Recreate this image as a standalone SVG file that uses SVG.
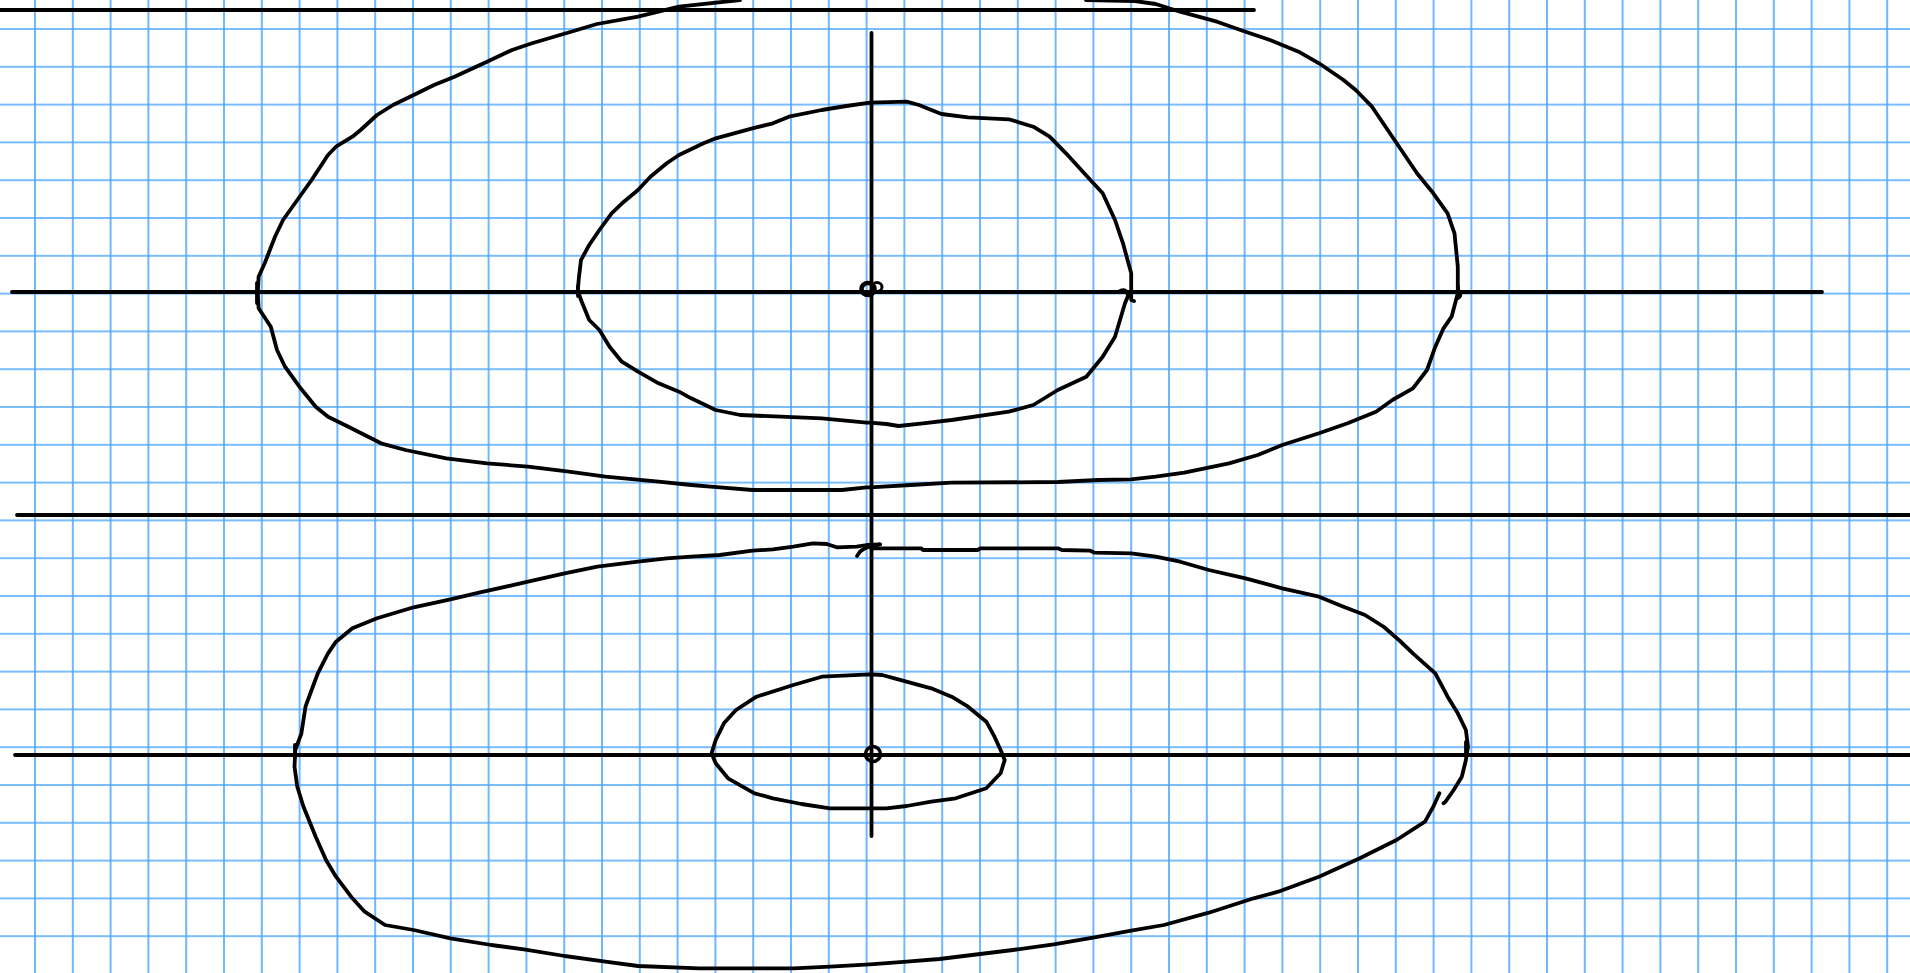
<svg xmlns="http://www.w3.org/2000/svg" width="1910" height="973" viewBox="0 0 1910 973">
<style>
.ln{stroke:#000;stroke-width:3.8;fill:none;stroke-linecap:round}
.cv{stroke:#000;stroke-width:3.8;fill:none;stroke-linecap:round;stroke-linejoin:round}
</style>
<defs>
<pattern id="grid" patternUnits="userSpaceOnUse" x="16.1" y="10.1" width="37.8" height="37.8">
<path d="M18.9 0V37.8M0 18.9H37.8" stroke="#4da6ff" stroke-width="1.6" fill="none"/>
</pattern>
</defs>
<rect width="1910" height="973" fill="#fff"/>
<rect id="grid-paper" width="1910" height="973" fill="url(#grid)"/>
<g id="lines">
<path class="ln" d="M0 10H1254"/>
<path class="ln" d="M12 292H1822"/>
<path class="ln" d="M17 515H1910"/>
<path class="ln" d="M15 755H1910"/>
<path class="ln" d="M871.5 33V836"/>
</g>
<g id="upper-outer">
<path class="cv" d="M740 0L679 6.7L638 16.7L597 24L577 30L532 43.3L512 50L487 61.7L454.5 76.7L434 85L413.7 95L393 105L377 115L360.6 130L352.4 136.7L336 146.7L328 155L311.6 180L297.3 200L283 220L275 236.7L264.7 263.3L258.6 276.7L257.8 293.3L258.6 308.3L270.8 326.7L277 350L285 366.7L299.4 386.7L315.7 406.7L328 416.7L348.4 426.7L381 443.3L405.5 450L446.3 458.3L487 463.3L528 466.7L568.8 471.7L605.5 476.7L658.6 481.7L691.2 485L719.8 487.3L752.4 490L842 490L866.7 487.3L870 487.3L910.8 485L951.6 482.7L1057.8 482L1098.6 480L1131 479.3L1155.7 476.7L1184.3 472.7L1229 463.3L1257.8 455L1282.2 445L1319 433.3L1347.6 423.3L1376 411.7L1392.4 400L1412.9 388.3L1427 370L1435.3 346.7L1443.5 328.3L1451.6 316.7L1457.8 293.3L1457.8 266.7L1454.5 233.3L1447.6 213.3L1433.3 193.3L1417 173.3L1394.5 140L1372 106.7L1355.7 90L1343.5 80L1319 63.3L1298.6 51.7L1270 40L1245.5 31.7L1217 21.7L1180 11.7L1155.7 4L1135 1L1086 0"/>
<path class="cv" d="M257 283V303M1458 287V298Q1462 296 1459 292"/>
</g>
<g id="upper-inner">
<path class="cv" d="M870 102.7L846.3 106L821.8 110L789 116.7L772.9 123.3L752.4 128.3L715.7 138.3L703.5 143.3L679 155L666.7 163.3L650.4 176.7L638 190L623.9 201.7L611.6 213.3L599.4 230L589.2 245L581 260L579 276.7L577.8 290L581 300L589.2 320L599.4 330L609.6 346.7L621.8 361.7L638 371.7L658.6 383.3L679 391.7L691.2 398.3L715.7 410L740.2 415L781 416.7L821.8 418.3L866.7 422.7L870 422.7L886.3 424L898.6 426L923 423.3L951.6 420L1008.8 411.7L1033.3 405L1057.8 390L1086.3 376.7L1102.7 356.7L1115 336.7L1125 303.3L1128 296"/>
<path class="cv" d="M870 102.7L906.7 101.7L919 105L941.4 114L968 117.3L1008.8 119.3L1033.3 126.7L1049.6 136.7L1066 153.3L1090.4 180L1102.7 193.3L1115 220L1123 243.3L1131.2 273.3L1131.2 300L1134 301M1120 291Q1127 288 1128 296"/>
<path class="cv" d="M578 286V296"/>
</g>
<g id="lower-outer">
<path class="cv" d="M880 544.3L866.7 545L856.7 546.7L836.7 547.3L826.7 544L813 543.3L793.3 546.7L772.9 549.3L752.4 550.7L719.8 555L691.2 556.7L666.7 558.3L638 561.7L597.3 566.7L564.7 573.3L528 581.7L479 592.7L450.4 599.3L413.7 607.3L377 618.3L352.4 628.3L336 641.7L328 653.3L317.8 673.3L311.6 690L305.5 706.7L301.4 733.3L295.3 750L294.5 766.7L297.3 786.7L303.5 806.7L315.7 836.7L326 860L336 876.7L352.4 898.3L364.7 911.7L385 925L413.7 930L450.4 938.3L491.2 945L523.9 949.3L564.7 956L605.5 961.7L638 966L699.4 968.3L793.3 968.3L830 966.7L870 964.3L906.7 961.7L939.4 959L980.2 954L1012.9 950L1053.7 944.3L1094.5 937.3L1131.2 930.7L1163.9 925L1208.8 912.7L1253.7 898.3L1278.2 891.7L1319 876.7L1359.8 858.3L1396.5 840L1425 821.7L1433.3 806.7L1439.4 793.3"/>
<path class="cv" d="M880 544.3Q866 546 860 551.7L857 556"/>
<path class="cv" d="M871 548.3L921 548.3L923 550L978 550L980.2 548.3L1057.8 548.3L1061.8 550L1090.4 550.7L1094.5 552.7L1131.2 553.3L1155.7 556.7L1180.2 561.7L1208.8 570L1245.5 578.3L1282.2 588.3L1319 596.7L1343.5 606.7L1365 615L1384 627L1400 641L1412.9 653.3L1435.3 673.3L1447.6 696.7L1457.8 713.3L1465.9 730L1468 746.7L1465.9 760L1461.8 776.7L1453.7 790L1445.5 801.7L1443.5 803.3"/>
<path class="cv" d="M295 745V757M1466 742V756"/>
</g>
<g id="lower-inner">
<path class="cv" d="M870 674.3L882.2 675L894.5 678.3L931.2 688.3L951.6 696.7L968 706.7L986.3 721.7L994.5 736.7L1000.6 750L1004.7 760L1000.6 773.3L986.3 788.3L955.7 798.3L931.2 801.7L906.7 806L886.3 808.3L870 808.3L830 808.3L801.4 804L772.9 798.3L754.5 793.3L728 778.3L715.7 763.3L711.6 753.3L715.7 740L723.9 723.3L736 710L756.5 696.7L793.3 685L821.8 676.7L870 674.3"/>
</g>
<g id="origins">
<ellipse cx="868" cy="289" rx="6.5" ry="6" fill="none" stroke="#000" stroke-width="4.5"/>
<ellipse cx="877" cy="287" rx="5" ry="4.5" fill="none" stroke="#000" stroke-width="3"/>
<circle cx="873" cy="754" r="7.5" fill="none" stroke="#000" stroke-width="3.5"/>
</g>
</svg>
